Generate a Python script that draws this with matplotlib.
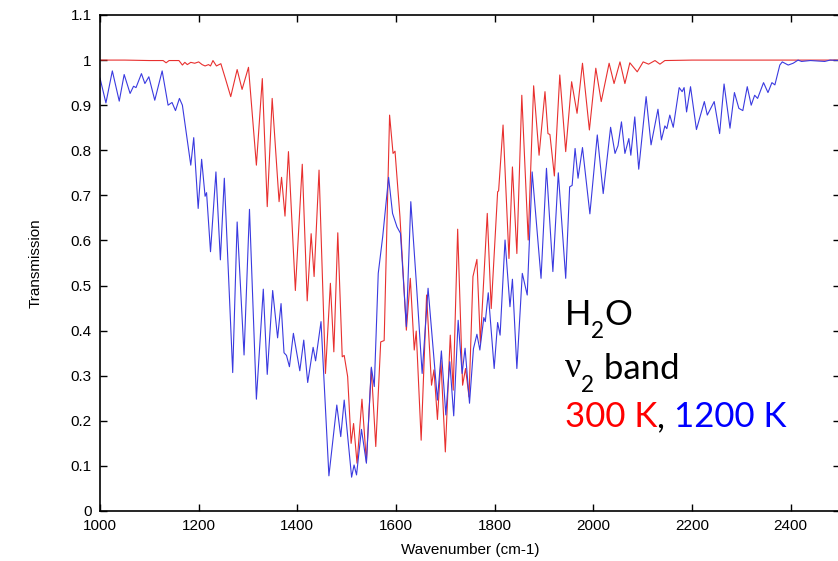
import numpy as np
import matplotlib
matplotlib.use("Agg")
import matplotlib.pyplot as plt
from matplotlib.ticker import FuncFormatter

# Spectre de transmission H2O, bande nu2

# 300 K
wn_300 = [1000, 1050, 1100, 1128, 1134, 1140, 1160, 1167, 1172, 1177, 1184, 1192,
          1200, 1207, 1213, 1220, 1224, 1229, 1236, 1245, 1255, 1265, 1278, 1288,
          1301, 1317, 1329, 1339, 1349, 1363, 1368, 1375, 1382, 1396, 1410, 1420,
          1428, 1434, 1444, 1457, 1467, 1474, 1482, 1491, 1495, 1502, 1509, 1514,
          1521, 1531, 1540, 1550, 1559, 1569, 1576, 1587, 1594, 1598, 1608, 1621,
          1629, 1637, 1641, 1651, 1662, 1672, 1677, 1684, 1691, 1700, 1710, 1716,
          1725, 1735, 1741, 1748, 1756, 1764, 1771, 1785, 1793, 1806, 1808, 1817,
          1829, 1836, 1845, 1855, 1868, 1879, 1890, 1902, 1908, 1912, 1921, 1932,
          1944, 1956, 1967, 1978, 1992, 2005, 2016, 2032, 2042, 2054, 2064, 2074,
          2089, 2101, 2112, 2125, 2135, 2145, 2200, 2300, 2400, 2500]
t_300 = [1.0, 1.0, 0.999, 0.999, 0.994, 0.999, 0.999, 0.989, 0.995, 0.990, 0.995, 0.993,
         0.996, 0.990, 0.987, 0.990, 0.987, 0.999, 0.987, 0.992, 0.956, 0.919, 0.979, 0.935,
         0.984, 0.767, 0.959, 0.675, 0.915, 0.686, 0.740, 0.654, 0.797, 0.489, 0.769, 0.466,
         0.615, 0.520, 0.756, 0.305, 0.505, 0.353, 0.617, 0.342, 0.345, 0.298, 0.150, 0.194,
         0.106, 0.248, 0.109, 0.316, 0.143, 0.375, 0.378, 0.878, 0.793, 0.798, 0.653, 0.401,
         0.516, 0.357, 0.399, 0.157, 0.479, 0.279, 0.313, 0.203, 0.333, 0.131, 0.390, 0.268,
         0.625, 0.279, 0.316, 0.253, 0.520, 0.558, 0.372, 0.660, 0.449, 0.708, 0.710, 0.856,
         0.560, 0.763, 0.571, 0.922, 0.601, 0.943, 0.789, 0.930, 0.837, 0.835, 0.743, 0.967,
         0.797, 0.952, 0.882, 0.993, 0.845, 0.982, 0.908, 0.993, 0.948, 0.996, 0.948, 0.994,
         0.974, 0.996, 0.991, 0.999, 0.991, 0.999, 1.0, 1.0, 1.0, 1.0]

# 1200 K
wn_1200 = [1000, 1012, 1025, 1039, 1049, 1061, 1068, 1073, 1084, 1091, 1099, 1111,
           1126, 1138, 1146, 1153, 1161, 1167, 1184, 1190, 1199, 1206, 1213, 1216,
           1224, 1235, 1244, 1252, 1269, 1278, 1292, 1303, 1317, 1331, 1339, 1350,
           1360, 1367, 1373, 1378, 1384, 1392, 1405, 1413, 1421, 1432, 1437, 1448,
           1464, 1480, 1488, 1495, 1510, 1515, 1520, 1530, 1540, 1550, 1556, 1564,
           1573, 1585, 1593, 1602, 1609, 1621, 1630, 1641, 1653, 1665, 1684, 1692,
           1701, 1709, 1717, 1726, 1734, 1740, 1749, 1757, 1764, 1770, 1778, 1781,
           1787, 1799, 1806, 1811, 1821, 1831, 1836, 1845, 1856, 1866, 1876, 1894,
           1905, 1918, 1929, 1944, 1952, 1957, 1963, 1969, 1978, 1993, 2008, 2020,
           2035, 2044, 2050, 2057, 2064, 2072, 2076, 2084, 2092, 2107, 2117, 2131,
           2138, 2145, 2149, 2155, 2162, 2174, 2180, 2184, 2189, 2197, 2209, 2225,
           2231, 2245, 2256, 2265, 2277, 2286, 2295, 2303, 2312, 2320, 2327, 2333,
           2345, 2354, 2362, 2368, 2378, 2383, 2395, 2405, 2415, 2422, 2440, 2469,
           2480, 2500]
t_1200 = [0.960, 0.905, 0.976, 0.909, 0.968, 0.926, 0.942, 0.939, 0.970, 0.948, 0.963, 0.911,
          0.976, 0.900, 0.906, 0.888, 0.915, 0.900, 0.767, 0.828, 0.671, 0.780, 0.698, 0.706,
          0.575, 0.752, 0.557, 0.738, 0.307, 0.641, 0.346, 0.669, 0.248, 0.492, 0.303, 0.489,
          0.384, 0.460, 0.351, 0.345, 0.320, 0.394, 0.311, 0.379, 0.285, 0.363, 0.333, 0.420,
          0.078, 0.235, 0.165, 0.246, 0.075, 0.102, 0.080, 0.181, 0.106, 0.319, 0.276, 0.527,
          0.608, 0.740, 0.660, 0.630, 0.616, 0.409, 0.686, 0.510, 0.305, 0.494, 0.246, 0.355,
          0.213, 0.331, 0.211, 0.423, 0.305, 0.361, 0.239, 0.360, 0.392, 0.357, 0.429, 0.420,
          0.484, 0.316, 0.418, 0.390, 0.601, 0.453, 0.514, 0.316, 0.527, 0.479, 0.752, 0.516,
          0.760, 0.531, 0.750, 0.516, 0.719, 0.722, 0.804, 0.738, 0.806, 0.659, 0.834, 0.704,
          0.851, 0.793, 0.810, 0.863, 0.793, 0.826, 0.789, 0.874, 0.758, 0.919, 0.812, 0.891,
          0.823, 0.854, 0.848, 0.878, 0.851, 0.939, 0.930, 0.939, 0.885, 0.941, 0.846, 0.908,
          0.878, 0.908, 0.837, 0.947, 0.849, 0.928, 0.893, 0.888, 0.941, 0.900, 0.922, 0.915,
          0.950, 0.928, 0.950, 0.945, 0.989, 0.996, 0.989, 0.993, 1.000, 0.997, 0.999, 0.997,
          1.000, 0.999]

x_ticks = [1000, 1200, 1400, 1600, 1800, 2000, 2200, 2400]
y_ticks = np.round(np.arange(0, 1.11, 0.1), 1)

plt.rcParams['font.family'] = ['Liberation Sans', 'DejaVu Sans']
plt.rcParams['mathtext.default'] = 'regular'

fig = plt.figure(figsize=(8.38, 5.61), dpi=100)
ax = fig.add_axes([100 / 838, 50 / 561, 740 / 838, 496 / 561])

ax.plot(wn_300, t_300, color="#e8302f", lw=0.8)
ax.plot(wn_1200, t_1200, color="#3a3ae0", lw=0.8)

ax.set_xlim(1000, 2500)
ax.set_ylim(0, 1.1)
ax.set_xticks(x_ticks)
ax.set_yticks(y_ticks)
ax.yaxis.set_major_formatter(FuncFormatter(lambda v, p: "%g" % v))
ax.tick_params(direction="in", length=5, width=1, top=True, right=True,
               labelsize=11, pad=6)
for s in ax.spines.values():
    s.set_linewidth(1.2)

ax.set_xlabel("Wavenumber (cm-1)", fontsize=11, labelpad=7)
ax.set_ylabel("Transmission", fontsize=11, labelpad=20)

# texte annote
fam = ['Lato', 'DejaVu Sans']
fs = 25
x0 = 565 / 838
h = fig.text(x0, 1 - 325 / 561, "H", fontsize=fs, family=fam, va="baseline")
s1 = ax.annotate("2", xy=(1, 0), xycoords=h, xytext=(0, -8), textcoords="offset points",
                 fontsize=fs * 0.65, family=fam, va="bottom")
ax.annotate("O", xy=(1, 0), xycoords=h, xytext=(fs * 0.38, 0), textcoords="offset points",
            fontsize=fs, family=fam, va="bottom")
nu = fig.text(x0, 1 - 377 / 561, "\u03bd", fontsize=fs + 1, family="Liberation Serif",
              va="baseline")
s2 = ax.annotate("2", xy=(1, 0), xycoords=nu, xytext=(0, -8), textcoords="offset points",
                 fontsize=fs * 0.65, family=fam, va="bottom")
ax.annotate(" band", xy=(1, 0), xycoords=nu, xytext=(fs * 0.38, 0), textcoords="offset points",
            fontsize=fs, family=fam, va="bottom")
t1 = fig.text(x0, 1 - 427 / 561, "300 K", fontsize=fs, family=fam,
              color="#ff0000", va="baseline")
t2 = ax.annotate(", ", xy=(1, 0), xycoords=t1, fontsize=fs, family=fam,
                 color="black", va="bottom", ha="left")
ax.annotate("1200 K", xy=(1, 0), xycoords=t2, fontsize=fs, family=fam,
            color="#0000ff", va="bottom", ha="left")

fig.savefig("out.png", dpi=100)
